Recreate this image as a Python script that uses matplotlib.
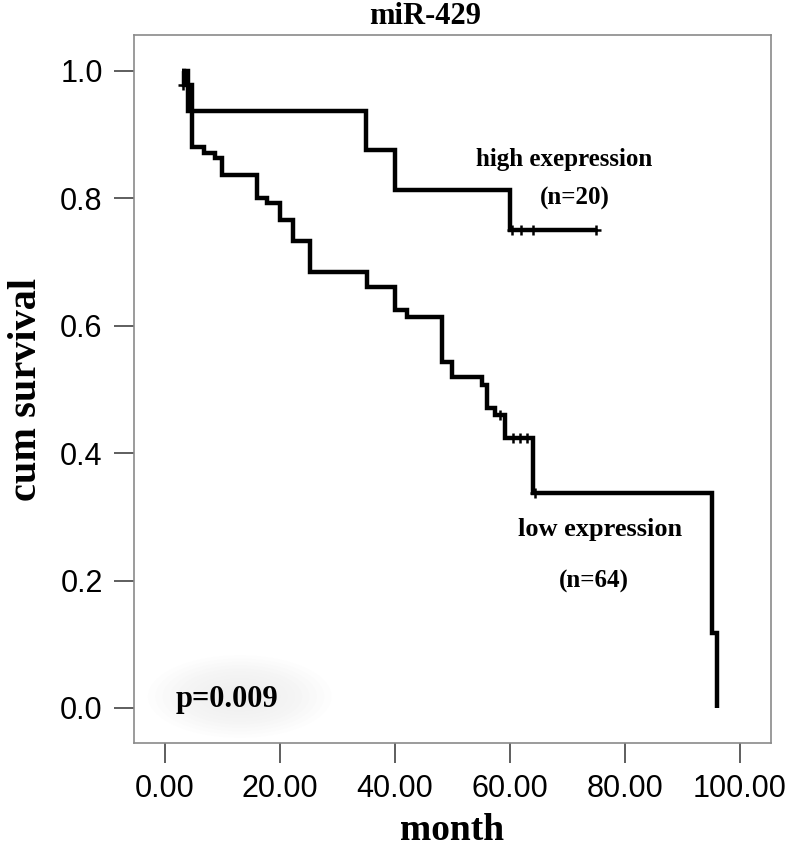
import matplotlib
matplotlib.use("Agg")
import matplotlib.pyplot as plt
from matplotlib.patches import Ellipse

# high expression group (n=20): step times and survival after each step
high_t = [3.0, 4.0, 35.0, 40.0, 60.0, 75.0]
high_s = [1.0, 0.9375, 0.875, 0.8125, 0.75, 0.75]
high_cens_t = [60.3, 62.0, 64.0, 75.0]
high_cens_s = [0.75, 0.75, 0.75, 0.75]

# low expression group (n=64)
low_t = [3.0, 3.3, 4.7, 6.7, 8.7, 9.9, 16.0, 17.7, 20.0, 22.3, 25.2, 35.1,
         40.0, 42.0, 48.2, 50.0, 55.2, 56.0, 57.4, 59.2, 64.0, 95.1, 96.0]
low_s = [1.0, 0.977, 0.881, 0.871, 0.863, 0.837, 0.80, 0.793, 0.766, 0.732,
         0.684, 0.66, 0.625, 0.614, 0.543, 0.52, 0.507, 0.471, 0.46, 0.424,
         0.338, 0.117, 0.0]
low_cens_t = [3.1, 58.3, 60.6, 61.8, 63.0, 64.3]
low_cens_s = [0.977, 0.46, 0.424, 0.424, 0.424, 0.338]

xticks = [0, 20, 40, 60, 80, 100]
yticks = [0.0, 0.2, 0.4, 0.6, 0.8, 1.0]

serif = "Liberation Serif"
sans = "Liberation Sans"

fig = plt.figure(figsize=(7.97, 8.48), dpi=100)
ax = fig.add_axes([0.1681, 0.1238, 0.7993, 0.8349])

ax.step(high_t, high_s, where="post", color="black", lw=3.2,
        solid_joinstyle="miter", solid_capstyle="butt", zorder=3)
ax.step(low_t, low_s, where="post", color="black", lw=3.2,
        solid_joinstyle="miter", solid_capstyle="butt", zorder=3)
ax.plot(high_cens_t, high_cens_s, ls="none", marker="+", ms=7, mew=1.8,
        color="black", zorder=4)
ax.plot(low_cens_t, low_cens_s, ls="none", marker="+", ms=7, mew=1.8,
        color="black", zorder=4)

# soft grey glow behind the p value
for i in range(10):
    k = 1.0 - i * 0.08
    ax.add_patch(Ellipse((13.0, 0.018), 32 * k, 0.13 * k,
                         facecolor="#a0a0a0", edgecolor="none",
                         alpha=0.012, zorder=1))

ax.text(10.8, 0.013, "p=0.009", fontsize=22, fontweight="bold",
        family=serif, ha="center", va="center", zorder=5)
ax.text(69.4, 0.86, "high exepression", fontsize=18, fontweight="bold",
        family=serif, ha="center", va="center")
ax.text(71.3, 0.80, "(n=20)", fontsize=18, fontweight="bold",
        family=serif, ha="center", va="center")
ax.text(75.6, 0.28, "low expression", fontsize=19, fontweight="bold",
        family=serif, ha="center", va="center")
ax.text(74.6, 0.198, "(n=64)", fontsize=18, fontweight="bold",
        family=serif, ha="center", va="center")

ax.set_xlim(-5.4, 105.4)
ax.set_ylim(-0.055, 1.056)
ax.set_xticks(xticks)
ax.set_xticklabels([f"{v:.2f}" for v in xticks])
ax.set_yticks(yticks)
ax.set_yticklabels([f"{v:.1f}" for v in yticks])
ax.tick_params(axis="both", direction="out", length=14.5, width=1.1,
               color="#333333", labelsize=22, pad=8)
for lab in ax.get_xticklabels() + ax.get_yticklabels():
    lab.set_family(sans)

for sp in ax.spines.values():
    sp.set_color("#8a8a8a")
    sp.set_linewidth(1.2)

ax.set_xlabel("month", fontsize=27, fontweight="bold", family=serif, labelpad=6)
ax.set_ylabel("cum survival", fontsize=29, fontweight="bold", family=serif,
              labelpad=11)
fig.text(0.533, 0.98, "miR-429", fontsize=22, fontweight="bold",
         family=serif, ha="center", va="center")

fig.savefig("out.png", dpi=100)
